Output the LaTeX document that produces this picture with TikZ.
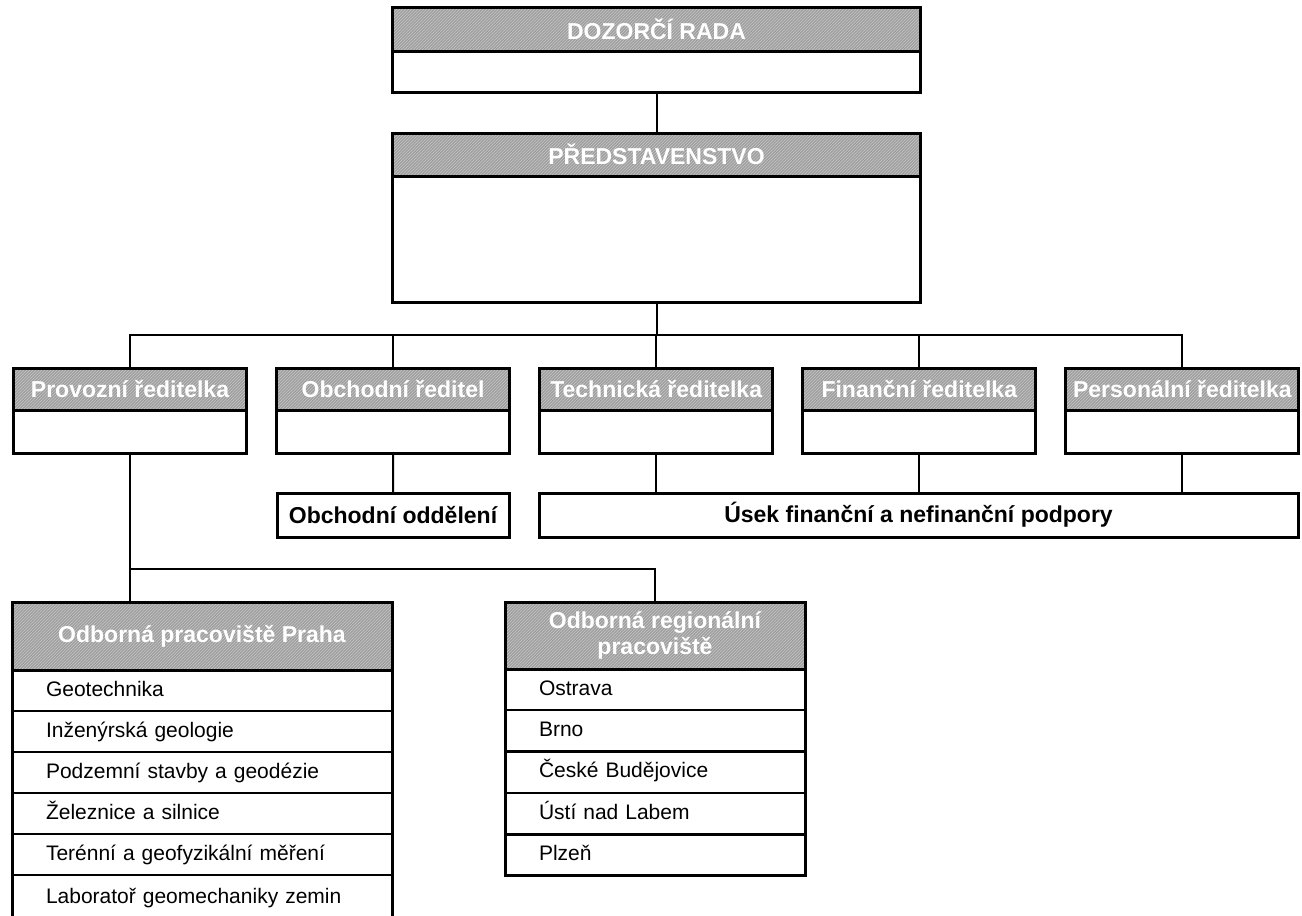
\documentclass[tikz,border=0pt]{standalone}
\usepackage{fontspec}
\setmainfont{Liberation Sans}
\usetikzlibrary{positioning,patterns}
\tikzset{
	head/.style={draw, line width=3pt, preaction={fill=gray!75}, pattern=north east lines, pattern color=gray!45,
		text=white, font=\fontsize{23}{26}\selectfont\bfseries, align=center, inner sep=0pt, outer sep=0pt},
	body/.style={draw, line width=3pt, fill=white, inner sep=0pt, outer sep=0pt},
	unit/.style={draw, line width=3pt, fill=white, font=\fontsize{23}{26}\selectfont\bfseries, inner sep=0pt, outer sep=0pt},
	item/.style={draw, line width=2pt, anchor=north, align=left, inner xsep=34pt, inner ysep=0pt, outer sep=0pt,
		text height=16pt, text depth=5pt, font=\fontsize{21}{24}\selectfont},
	link/.style={line width=2pt}
}
\begin{document}
\begin{tikzpicture}[x=1pt, y=-1pt]
	\clip (0,0) rectangle (1302,916);
	
	\node[head, minimum width=528pt, minimum height=44pt] (rada) at (656.5,29) {DOZORČÍ RADA};
	\node[body, minimum width=528pt, minimum height=41pt, below=0pt of rada] (rada-body) {};
	\node[head, minimum width=528pt, minimum height=43pt] (pred) at (656.5,154.5) {PŘEDSTAVENSTVO};
	\node[body, minimum width=528pt, minimum height=126pt, below=0pt of pred] (pred-body) {};
	
	\foreach \n/\t [count=\i from 0] in {prov/Provozní ředitelka, obch/Obchodní ředitel, tech/Technická ředitelka,
		fin/Finanční ředitelka, pers/Personální ředitelka}
	{
		\node[head, minimum width=233pt, minimum height=42pt] (\n) at ({130+263.1*\i},389) {\t};
		\node[body, minimum width=233pt, minimum height=43pt, below=0pt of \n] (\n-body) {};
	}
	
	\node[unit, minimum width=232pt, minimum height=44pt] (odd) at (393,515) {Obchodní oddělení};
	\node[unit, minimum width=759pt, minimum height=44pt] (usek) at (918.5,515) {Úsek finanční a nefinanční podpory};
	
	\node[head, minimum width=380pt, minimum height=68pt] (praha) at (202,636) {Odborná pracoviště Praha};
	\foreach \t [count=\i from 0] in {Geotechnika, Inženýrská geologie, Podzemní stavby a geodézie,
		Železnice a silnice, Terénní a geofyzikální měření}
	{
		\node[item, text width=312pt, minimum height=41pt] (praha-\i) at (202,{670+41*\i}) {\t};
	}
	\node[item, text width=312pt, minimum height=45pt] (praha-5) at (202,875) {Laboratoř geomechaniky zemin};
	\draw[line width=3pt] (praha.north west) rectangle (praha-5.south east);
	
	\node[head, minimum width=300pt, minimum height=67pt] (reg) at (655,635.5) {Odborná regionální\\pracoviště};
	\foreach \t [count=\i from 0] in {Ostrava, Brno, České Budějovice, Ústí nad Labem, Plzeň}
	{
		\node[item, text width=232pt, minimum height=41pt] (reg-\i) at (655,{669+41.4*\i}) {\t};
	}
	\draw[line width=3pt] (reg.north west) rectangle (reg-4.south east);
	
	\coordinate (bus) at (656.5,335);
	\coordinate (bus2) at (130,569);
	\draw[link] (rada-body.south) -- (pred.north);
	\draw[link] (pred-body.south) -- (bus);
	\draw[link] (prov.north) |- (bus) -| (pers.north);
	\foreach \n in {obch,tech,fin}
	\draw[link] (\n.north) -- (\n.north |- bus);
	\draw[link] (obch-body.south) -- (odd.north);
	\foreach \n in {tech,fin,pers}
	\draw[link] (\n-body.south) -- (\n-body.south |- usek.north);
	\draw[link] (prov-body.south) -- (prov-body.south |- praha.north);
	\draw[link] (bus2) -| (reg.north);
\end{tikzpicture}
\end{document}
